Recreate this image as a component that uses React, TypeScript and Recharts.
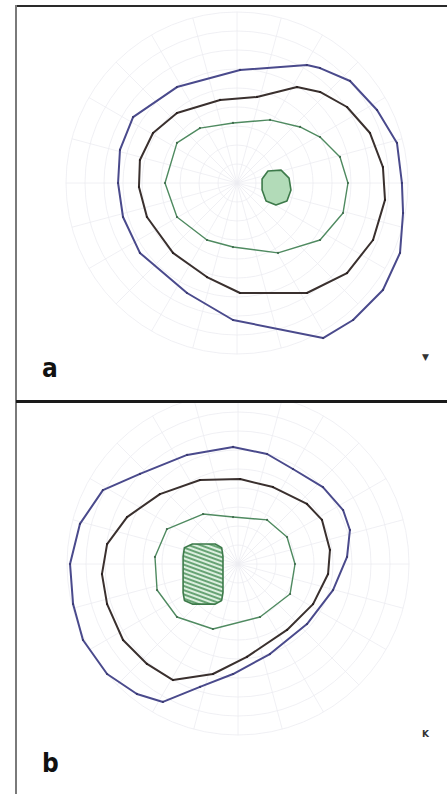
import React from 'react';
import {
  ScatterChart,
  Scatter,
  XAxis,
  YAxis,
  RadarChart,
  Radar,
  PolarGrid,
  PolarAngleAxis,
  PolarRadiusAxis,
} from 'recharts';

// meridians of the perimetry chart, degrees
const MERIDIANS = [0, 15, 30, 45, 60, 75, 90, 105, 120, 135, 150, 165, 180, 195, 210, 225, 240, 255, 270, 285, 300, 315, 330, 345];
// eccentricity range of the rings, degrees
const ECCENTRICITY = [0, 90];

// isopters, [x, y] in degrees from fixation (x right, y up)
const A_OUTER = [[36.8, 62.1], [43.7, 60.5], [59.5, 53.7], [73.7, 38.4], [84.2, 21.1], [86.8, 0], [87.4, -15.8], [85.8, -36.8], [76.8, -56.3], [61.1, -72.1], [45.3, -81.6], [-2.1, -72.1], [-26.3, -57.9], [-51.1, -36.8], [-60, -17.9], [-62.6, 0], [-61.6, 17.4], [-54.7, 34.7], [-31.6, 50.5], [1.6, 59.5]];
const A_MIDDLE = [[31.6, 50.5], [43.7, 47.9], [57.9, 40], [70, 26.3], [76.8, 8.4], [77.9, -8.9], [71.6, -30], [57.9, -47.4], [36.8, -57.9], [1.6, -57.9], [-15.8, -49.5], [-33.7, -36.8], [-47.4, -17.9], [-51.6, -2.1], [-51.1, 12.1], [-44.2, 26.3], [-31.6, 36.8], [-8.9, 43.7], [10.5, 45.3]];
const A_INNER = [[17.4, 33.2], [33.2, 29.5], [43.7, 24.2], [54.2, 13.7], [58.4, 0], [55.8, -15.8], [43.7, -30], [21.6, -36.8], [-2.1, -33.7], [-15.8, -30], [-31.6, -17.9], [-37.9, 0], [-31.6, 21.1], [-19.5, 28.9], [-2.1, 31.6]];
const A_BLIND = [[16.3, 6.3], [23.2, 6.8], [27.4, 2.6], [28.4, -3.7], [26.3, -9.5], [20.5, -11.6], [15.3, -9.5], [13.2, -3.7], [13.2, 2.1]];

const B_OUTER = [[-2.6, 61.6], [15.3, 57.9], [28.9, 50], [44.7, 40.5], [55.3, 28.4], [58.9, 17.9], [57.4, 3.7], [50, -13.7], [36.3, -31.6], [16.8, -47.4], [-2.6, -57.9], [-20, -64.7], [-39.5, -72.6], [-53.2, -68.4], [-68.9, -57.9], [-81.6, -40], [-86.8, -21.1], [-88.4, 0], [-83.2, 21.1], [-71.1, 38.9], [-51.6, 47.4], [-26.8, 57.4]];
const B_MIDDLE = [[1.1, 44.7], [18.4, 40.5], [36.3, 31.6], [44.2, 23.2], [48.4, 7.4], [47.4, -5.3], [39.5, -21.1], [25.8, -34.7], [4.7, -48.9], [-13.2, -57.9], [-34.2, -61.1], [-47.9, -52.6], [-60.5, -40], [-68.9, -21.1], [-71.6, -5.3], [-68.9, 10.5], [-58.4, 24.7], [-41.1, 36.8], [-20, 44.2]];
const B_INNER = [[-2.6, 24.7], [15.3, 23.2], [25.8, 14.2], [30, 0], [27.4, -15.8], [11.6, -27.9], [-13.2, -34.2], [-32.1, -27.9], [-42.6, -13.7], [-43.7, 3.7], [-37.4, 18.4], [-18.4, 26.3]];
const B_BLIND = [[-24, 10.5], [-12, 10.5], [-8.6, 8.6], [-7.9, 4], [-7.9, -15], [-8.6, -19.2], [-12, -21.1], [-24, -21.1], [-28.2, -19.2], [-28.9, -15], [-28.9, 4], [-28.2, 8.6]];

const W = 447;
const PX_PER_DEG = 1.9;

const toPoints = (arr: number[][]) => arr.map(([x, y]) => ({ x, y }));
const gridData = MERIDIANS.map((angle) => ({ angle, limit: ECCENTRICITY[1] }));

interface PanelProps {
  label: string;
  top: number;
  height: number;
  cx: number;
  cy: number;
  outer: number[][];
  middle: number[][];
  inner: number[][];
  blind: number[][];
  hatched: boolean;
  mark: string;
  markY: number;
}

const Dot = (color: string) => (p: any) => <circle cx={p.cx} cy={p.cy} r={1.1} fill={color} />;
const NoDot = () => <g />;

const Panel = ({ label, top, height, cx, cy, outer, middle, inner, blind, hatched, mark, markY }: PanelProps) => {
  const xDomain = [-cx / PX_PER_DEG, (W - cx) / PX_PER_DEG];
  const yDomain = [-(height - cy) / PX_PER_DEG, cy / PX_PER_DEG];
  const id = 'hatch' + label;
  return (
    <div style={{ position: 'absolute', left: 0, top, width: W, height, overflow: 'hidden' }}>
      <div style={{ position: 'absolute', left: 0, top: 0 }}>
        <RadarChart width={W} height={height} data={gridData} cx={cx} cy={cy} outerRadius={ECCENTRICITY[1] * PX_PER_DEG} startAngle={0} endAngle={360} margin={{ top: 0, right: 0, bottom: 0, left: 0 }}>
          <PolarGrid gridType="circle" stroke="#ececf1" strokeWidth={0.8} />
          <PolarAngleAxis dataKey="angle" tick={false} axisLine={false} tickLine={false} />
          <PolarRadiusAxis domain={ECCENTRICITY} tickCount={10} tick={false} axisLine={false} />
          <Radar dataKey="limit" stroke="none" fill="none" dot={false} isAnimationActive={false} />
        </RadarChart>
      </div>
      <div style={{ position: 'absolute', left: 0, top: 0 }}>
        <ScatterChart width={W} height={height} margin={{ top: 0, right: 0, bottom: 0, left: 0 }}>
          <defs>
            <pattern id={id} width={4} height={4} patternUnits="userSpaceOnUse" patternTransform="rotate(20)">
              <rect width={4} height={4} fill="#dcefdf" />
              <line x1={0} y1={1} x2={4} y2={1} stroke="#3f8a50" strokeWidth={1.5} />
            </pattern>
          </defs>
          <XAxis dataKey="x" type="number" domain={xDomain} allowDataOverflow hide />
          <YAxis dataKey="y" type="number" domain={yDomain} allowDataOverflow hide />
          <Scatter data={toPoints(outer)} isAnimationActive={false} fill="#4a4a8c" line={{ stroke: '#4a4a8c', strokeWidth: 2, strokeLinejoin: 'round' }} lineJointType="linearClosed" shape={Dot('#3a3a70')} />
          <Scatter data={toPoints(middle)} isAnimationActive={false} fill="#3a302e" line={{ stroke: '#3a302e', strokeWidth: 2, strokeLinejoin: 'round' }} lineJointType="linearClosed" shape={Dot('#2a2020')} />
          <Scatter data={toPoints(inner)} isAnimationActive={false} fill="#4f8a60" line={{ stroke: '#4f8a60', strokeWidth: 1.4, strokeLinejoin: 'round' }} lineJointType="linearClosed" shape={Dot('#3f6a4c')} />
          <Scatter data={toPoints(blind)} isAnimationActive={false} fill="#3d7a4a" line={{ stroke: '#3d7a4a', strokeWidth: 1.6, strokeLinejoin: 'round', fill: hatched ? `url(#${id})` : '#b2dbb8' }} lineJointType="linearClosed" shape={NoDot} />
        </ScatterChart>
      </div>
      <div style={{ position: 'absolute', left: 42, top: height - (label === 'a' ? 45 : 44), fontFamily: '"Liberation Sans Narrow", "DejaVu Sans Condensed", sans-serif', fontWeight: 'bold', fontSize: 26, color: '#111', lineHeight: 1 }}>
        {label}
      </div>
      <div style={{ position: 'absolute', left: 422, top: markY, fontFamily: 'DejaVu Sans, sans-serif', fontSize: 9, fontWeight: 'bold', color: '#333', lineHeight: 1 }}>
        {mark}
      </div>
    </div>
  );
};

export default function App() {
  return (
    <div style={{ position: 'absolute', left: 0, top: 0, width: W, height: 794, background: '#fff', overflow: 'hidden' }}>
      <Panel label="a" top={7} height={393} cx={237} cy={176} outer={A_OUTER} middle={A_MIDDLE} inner={A_INNER} blind={A_BLIND} hatched={false} mark="▼" markY={346} />
      <Panel label="b" top={403} height={391} cx={238} cy={161} outer={B_OUTER} middle={B_MIDDLE} inner={B_INNER} blind={B_BLIND} hatched={true} mark="K" markY={327} />
      <div style={{ position: 'absolute', left: 15, top: 5, width: W - 15, height: 2, background: '#2a2a2a' }} />
      <div style={{ position: 'absolute', left: 15, top: 5, width: 2, height: 789, background: '#7a7a7a' }} />
      <div style={{ position: 'absolute', left: 16, top: 400, width: W - 16, height: 3, background: '#1a1a1a' }} />
    </div>
  );
}
